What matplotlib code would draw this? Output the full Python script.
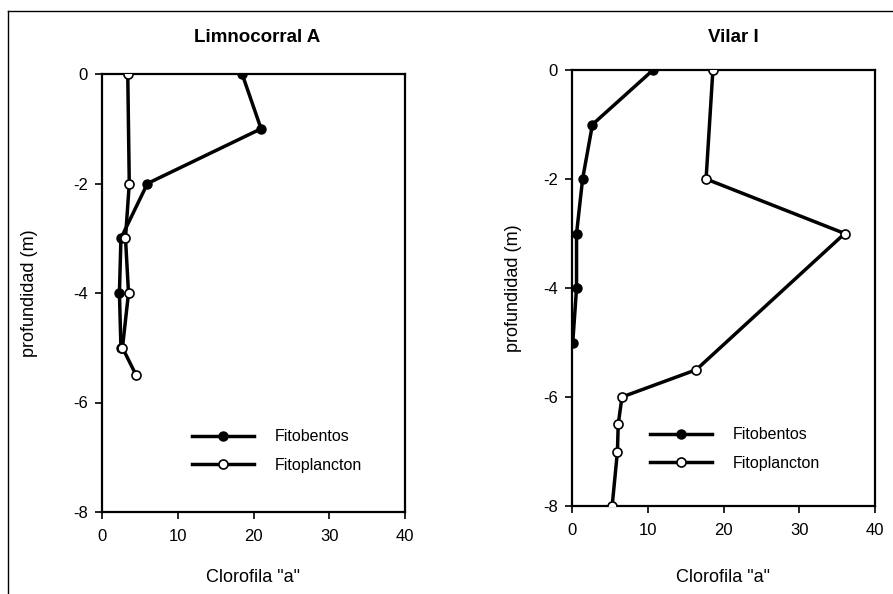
import matplotlib
matplotlib.use("Agg")
import matplotlib.pyplot as plt
from matplotlib.lines import Line2D

plt.rcParams['font.family'] = ['Liberation Sans', 'DejaVu Sans']
plt.rcParams['axes.unicode_minus'] = False

# Limnocorral A
la_bent_depth = [0, -1, -2, -3, -4, -5]
la_bent_chl = [18.5, 21.0, 6.0, 2.5, 2.3, 2.5]
la_plank_depth = [0, -2, -3, -4, -5, -5.5]
la_plank_chl = [3.4, 3.6, 3.1, 3.5, 2.7, 4.5]

# Vilar I
vi_bent_depth = [0, -1, -2, -3, -4, -5]
vi_bent_chl = [10.7, 2.7, 1.4, 0.6, 0.6, 0.1]
vi_plank_depth = [0, -2, -3, -5.5, -6, -6.5, -7, -8]
vi_plank_chl = [18.6, 17.7, 36.0, 16.4, 6.6, 6.1, 6.0, 5.3]

titles = ["Limnocorral A", "Vilar I"]
xticks = [0, 10, 20, 30, 40]
yticks = [0, -2, -4, -6, -8]

fig = plt.figure(figsize=(8.93, 5.94), dpi=100)
W, H = 893, 594

def make_ax(l, r, t, b):
    return fig.add_axes([l / W, 1 - b / H, (r - l) / W, (b - t) / H])

ax1 = make_ax(102, 405, 74, 512)
ax2 = make_ax(572, 875, 70, 506)

data = [
    (ax1, la_bent_chl, la_bent_depth, la_plank_chl, la_plank_depth, (192, 451), 257, 30),
    (ax2, vi_bent_chl, vi_bent_depth, vi_plank_chl, vi_plank_depth, (650, 449), 733, 513),
]

for i, (ax, bx, by, px, py, legpos, tx, ylx) in enumerate(data):
    ax.plot(bx, by, color='black', lw=2.5, marker='o', ms=6.5,
            mfc='black', mec='black', label='Fitobentos', zorder=3)
    ax.plot(px, py, color='black', lw=2.5, marker='o', ms=6.5,
            mfc='white', mec='black', mew=1.2, label='Fitoplancton', zorder=4)
    ax.set_xlim(0, 40)
    ax.set_ylim(-8, 0)
    ax.set_xticks(xticks)
    ax.set_yticks(yticks)
    ax.tick_params(direction='out', length=5, width=1.2, labelsize=12)
    ax.tick_params(axis='x', pad=7)
    ax.tick_params(axis='y', pad=5)
    for s in ax.spines.values():
        s.set_linewidth(1.6)
    ax.set_xlabel('Clorofila "a"', fontsize=13)
    ax.set_ylabel('profundidad (m)', fontsize=13)
    pos = ax.get_position()
    ax.xaxis.set_label_coords(0.5, ((1 - 577 / H) - pos.y0) / pos.height)
    ax.yaxis.set_label_coords((ylx / W - pos.x0) / pos.width, 0.5)
    ax.xaxis.label.set_va('center')
    ax.yaxis.label.set_va('center')
    lx = (legpos[0] / W - pos.x0) / pos.width
    ly = ((1 - legpos[1] / H) - pos.y0) / pos.height
    ax.legend(loc='center left', bbox_to_anchor=(lx, ly), frameon=False,
              fontsize=11.5, handlelength=3.9, handletextpad=1.25,
              labelspacing=0.85, borderpad=0, borderaxespad=0)
    fig.text(tx / W, 1 - 42 / H, titles[i], ha='center', va='baseline',
             fontsize=13.5, fontweight='bold')

# scan frame lines
fig.add_artist(Line2D([8 / W, 1.0], [1 - 11 / H, 1 - 11 / H], color='black', lw=1.0))
fig.add_artist(Line2D([8 / W, 8 / W], [1 - 11 / H, 0.0], color='black', lw=1.0))

fig.savefig('out.png', dpi=100)
